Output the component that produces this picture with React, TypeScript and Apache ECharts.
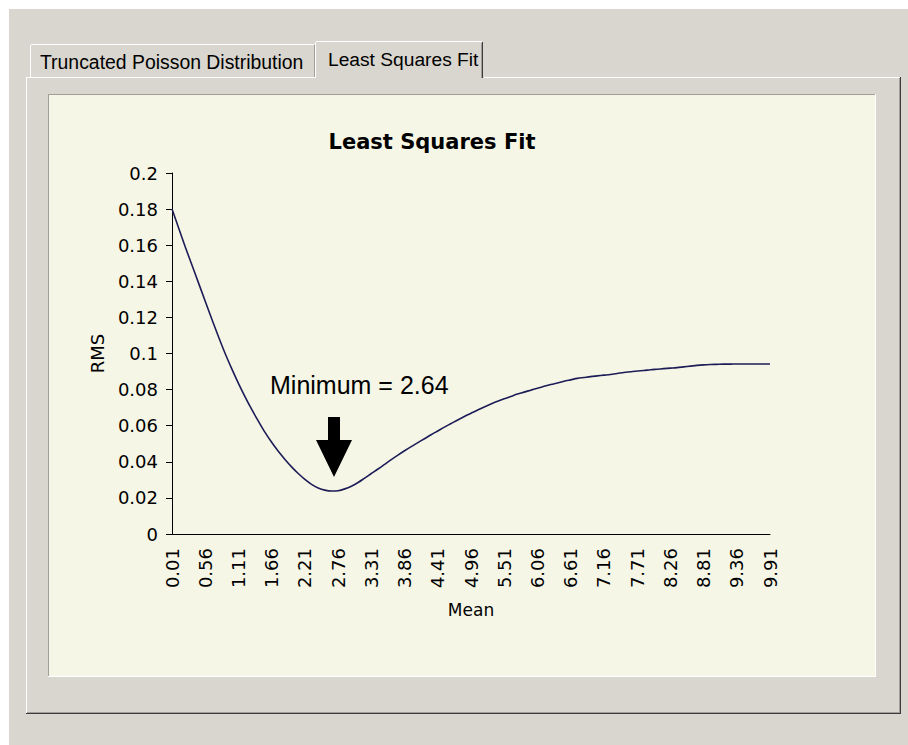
import React, { useEffect, useRef } from "react";
import * as echarts from "echarts";

const meanCategories = [
  "0.01","0.12","0.23","0.34","0.45","0.56","0.67","0.78","0.89","1.00",
  "1.11","1.22","1.33","1.44","1.55","1.66","1.77","1.88","1.99","2.10",
  "2.21","2.32","2.43","2.54","2.65","2.76","2.87","2.98","3.09","3.20",
  "3.31","3.42","3.53","3.64","3.75","3.86","3.97","4.08","4.19","4.30",
  "4.41","4.52","4.63","4.74","4.85","4.96","5.07","5.18","5.29","5.40",
  "5.51","5.62","5.73","5.84","5.95","6.06","6.17","6.28","6.39","6.50",
  "6.61","6.72","6.83","6.94","7.05","7.16","7.27","7.38","7.49","7.60",
  "7.71","7.82","7.93","8.04","8.15","8.26","8.37","8.48","8.59","8.70",
  "8.81","8.92","9.03","9.14","9.25","9.36","9.47","9.58","9.69","9.80",
  "9.91"
];

const rmsValues = [
  0.1800, 0.1695, 0.1590, 0.1490, 0.1390, 0.1290, 0.1190, 0.1093, 0.1000, 0.0915,
  0.0835, 0.0760, 0.0690, 0.0625, 0.0563, 0.0508, 0.0458, 0.0413, 0.0372, 0.0335,
  0.0302, 0.0275, 0.0255, 0.0243, 0.0238, 0.0240, 0.0250, 0.0265, 0.0285, 0.0310,
  0.0335, 0.0360, 0.0386, 0.0412, 0.0437, 0.0461, 0.0484, 0.0506, 0.0528, 0.0550,
  0.0571, 0.0592, 0.0612, 0.0632, 0.0651, 0.0669, 0.0687, 0.0704, 0.0720, 0.0735,
  0.0749, 0.0762, 0.0775, 0.0786, 0.0797, 0.0808, 0.0818, 0.0828, 0.0837, 0.0846,
  0.0854, 0.0862, 0.0867, 0.0872, 0.0876, 0.0880, 0.0884, 0.0889, 0.0895, 0.0899,
  0.0903, 0.0906, 0.0910, 0.0913, 0.0916, 0.0919, 0.0922, 0.0926, 0.0930, 0.0934,
  0.0937, 0.0939, 0.0940, 0.0941, 0.0941, 0.0942, 0.0942, 0.0942, 0.0942, 0.0942,
  0.0942
];

const tabLabels = ["Truncated Poisson Distribution", "Least Squares Fit"];
const chartTitle = "Least Squares Fit";
const annotationText = "Minimum = 2.64";

const GRAY = "#d9d6cf";
const CREAM = "#f6f6e6";

export default function App() {
  const ref = useRef<HTMLDivElement>(null);

  useEffect(() => {
    if (!ref.current) return;
    const chart = echarts.init(ref.current, undefined, { renderer: "svg" });

    const ln = (x1: number, y1: number, x2: number, y2: number, stroke: string, z = -5) => ({
      type: "line",
      z,
      silent: true,
      shape: { x1, y1, x2, y2 },
      style: { stroke, lineWidth: 1 },
    });

    const graphic: any[] = [
      // page background
      { type: "rect", z: -20, silent: true, shape: { x: 0, y: 0, width: 908, height: 745 }, style: { fill: "#ffffff" } },
      { type: "rect", z: -19, silent: true, shape: { x: 9, y: 9, width: 899, height: 736 }, style: { fill: GRAY } },
      // tab 1 (unselected)
      { type: "rect", z: -15, silent: true, shape: { x: 30, y: 44, width: 285, height: 34 }, style: { fill: GRAY } },
      ln(30.5, 45, 30.5, 77, "#ffffff", -14),
      ln(31, 44.5, 314, 44.5, "#ffffff", -14),
      ln(314.5, 45, 314.5, 77, "#a19e97", -14),
      // panel
      { type: "rect", z: -13, silent: true, shape: { x: 26, y: 77, width: 875, height: 637 }, style: { fill: GRAY } },
      ln(26.5, 77, 26.5, 713, "#ffffff", -12),
      ln(27, 77.5, 315, 77.5, "#ffffff", -12),
      ln(484, 77.5, 900, 77.5, "#ffffff", -12),
      ln(900.5, 77, 900.5, 714, "#3c3c3c", -12),
      ln(899.5, 78, 899.5, 713, "#a19e97", -12),
      ln(26, 713.5, 901, 713.5, "#3c3c3c", -12),
      ln(27, 712.5, 900, 712.5, "#a19e97", -12),
      // tab 2 (selected)
      { type: "rect", z: -11, silent: true, shape: { x: 315, y: 41, width: 169, height: 38 }, style: { fill: GRAY } },
      ln(315.5, 42, 315.5, 78, "#ffffff", -10),
      ln(316, 41.5, 482, 41.5, "#ffffff", -10),
      ln(482.5, 42, 482.5, 78, "#3c3c3c", -10),
      ln(481.5, 43, 481.5, 78, "#a19e97", -10),
      // inner cream box
      { type: "rect", z: -9, silent: true, shape: { x: 48, y: 94, width: 827, height: 582 }, style: { fill: CREAM } },
      ln(48, 94.5, 875, 94.5, "#a09e98", -8),
      ln(48.5, 94, 48.5, 676, "#a09e98", -8),
      ln(48, 676.5, 876, 676.5, "#ffffff", -8),
      ln(875.5, 94, 875.5, 677, "#ffffff", -8),
      // tab labels
      {
        type: "text", z: -5, silent: true, x: 40, y: 62,
        style: { text: tabLabels[0], fill: "#000", font: "19.4px 'Liberation Sans'", verticalAlign: "middle", align: "left" },
      },
      {
        type: "text", z: -5, silent: true, x: 328, y: 59,
        style: { text: tabLabels[1], fill: "#000", font: "19.2px 'Liberation Sans'", verticalAlign: "middle", align: "left" },
      },
      // chart title
      {
        type: "text", z: 10, silent: true, x: 432, y: 142,
        style: { text: chartTitle, fill: "#000", font: "bold 21px 'DejaVu Sans'", verticalAlign: "middle", align: "center" },
      },
      // annotation
      {
        type: "text", z: 50, silent: true, x: 270, y: 385,
        style: { text: annotationText, fill: "#000", font: "25px 'Liberation Sans'", verticalAlign: "middle", align: "left" },
      },
      {
        type: "polygon", z: 50, silent: true,
        shape: { points: [[328, 417], [340, 417], [340, 440], [352, 440], [334, 477], [316, 440], [328, 440]] },
        style: { fill: "#000" },
      },
    ];

    chart.setOption({
      animation: false,
      backgroundColor: "transparent",
      grid: { left: 172, top: 173, width: 598, height: 361, containLabel: false },
      xAxis: {
        type: "category",
        data: meanCategories,
        boundaryGap: false,
        name: "Mean",
        nameLocation: "middle",
        nameGap: 67,
        nameTextStyle: { fontFamily: "DejaVu Sans", fontSize: 17, color: "#000" },
        axisLine: { lineStyle: { color: "#000", width: 1 } },
        axisTick: { show: false },
        axisLabel: {
          interval: 4,
          rotate: 90,
          margin: 14,
          fontFamily: "DejaVu Sans",
          fontSize: 18,
          color: "#000",
        },
        splitLine: { show: false },
      },
      yAxis: {
        type: "value",
        min: 0,
        max: 0.2,
        interval: 0.02,
        name: "RMS",
        nameLocation: "middle",
        nameGap: 66,
        nameTextStyle: { fontFamily: "DejaVu Sans", fontSize: 18, color: "#000" },
        axisLine: { show: true, lineStyle: { color: "#000", width: 1 } },
        axisTick: { show: true, length: 6, inside: false, lineStyle: { color: "#000" } },
        axisLabel: { margin: 14, fontFamily: "DejaVu Sans", fontSize: 18, color: "#000" },
        splitLine: { show: false },
      },
      series: [
        {
          type: "line",
          data: rmsValues,
          showSymbol: false,
          smooth: 0.3,
          lineStyle: { color: "#1c1c58", width: 1.6 },
          z: 5,
        },
      ],
      graphic,
    });

    return () => chart.dispose();
  }, []);

  return (
    <div
      ref={ref}
      style={{ position: "absolute", left: 0, top: 0, width: 908, height: 745 }}
    />
  );
}
